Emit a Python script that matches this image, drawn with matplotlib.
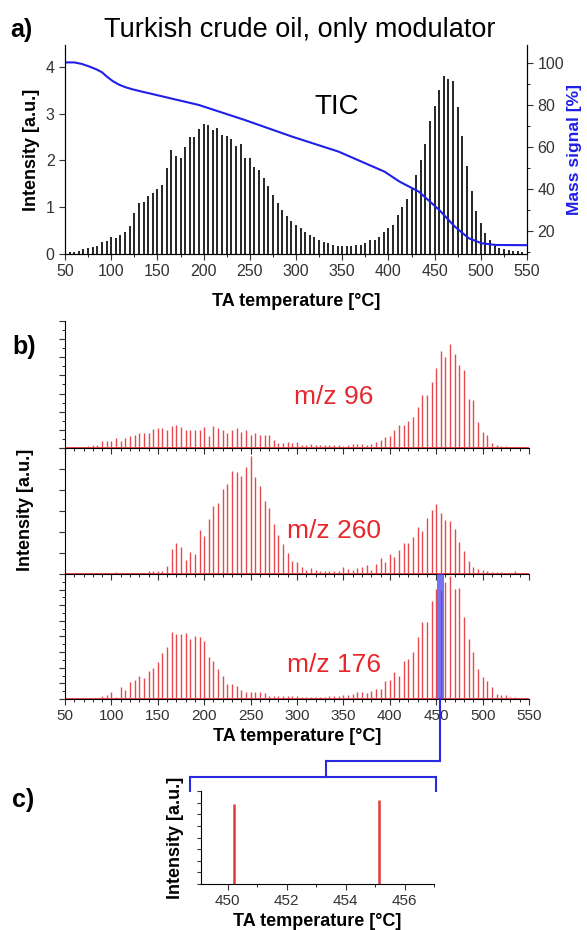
import numpy as np
import matplotlib
matplotlib.use('Agg')
import matplotlib.pyplot as plt
from matplotlib.ticker import MultipleLocator, NullFormatter
from matplotlib.lines import Line2D

plt.rcParams['font.family'] = ['Liberation Sans', 'DejaVu Sans']

W, H = 587, 930

# sample temperatures of the modulator pulses (every 5 degC)
temps = np.arange(50, 551, 5)

# a) TIC intensity [a.u.]
tic = [0.03, 0.05, 0.05, 0.07, 0.10, 0.13, 0.15, 0.18, 0.25, 0.28,
       0.37, 0.35, 0.40, 0.47, 0.60, 0.88, 1.10, 1.12, 1.25, 1.30,
       1.38, 1.47, 1.85, 2.22, 2.10, 2.05, 2.28, 2.50, 2.50, 2.68,
       2.77, 2.75, 2.65, 2.70, 2.55, 2.52, 2.45, 2.30, 2.35, 2.05,
       2.05, 1.87, 1.80, 1.62, 1.45, 1.27, 1.10, 0.95, 0.82, 0.70,
       0.62, 0.55, 0.48, 0.41, 0.36, 0.31, 0.26, 0.23, 0.19, 0.18,
       0.18, 0.18, 0.18, 0.20, 0.20, 0.23, 0.31, 0.31, 0.37, 0.46,
       0.56, 0.62, 0.84, 1.01, 1.17, 1.39, 1.69, 2.00, 2.35, 2.84,
       3.17, 3.50, 3.80, 3.75, 3.70, 3.15, 2.53, 1.89, 1.34, 0.93,
       0.67, 0.44, 0.31, 0.17, 0.12, 0.10, 0.08, 0.07, 0.06, 0.05,
       0.0]

# a) mass signal [%]
mass_t = [50, 60, 68, 76, 84, 90, 96, 102, 109, 116, 123, 132, 141, 195,
          245, 296, 346, 396, 412, 433, 455, 472, 487, 501, 516, 550]
mass_v = [100.3, 100.3, 99.6, 98.4, 97.0, 95.6, 93.3, 91.3, 89.6, 88.4,
          87.5, 86.5, 85.6, 80.0, 72.8, 64.9, 57.8, 48.2, 43.5, 38.7,
          30.0, 22.0, 16.5, 14.1, 13.3, 13.2]

# b) single ion traces [a.u.]
mz96 = [0, 2, 3, 2, 2, 5, 10, 10, 20, 20,
        20, 30, 20, 30, 35, 40, 45, 45, 45, 58,
        60, 60, 55, 68, 70, 65, 55, 55, 55, 55,
        65, 35, 68, 60, 55, 45, 55, 60, 50, 55,
        38, 45, 40, 38, 40, 25, 15, 15, 18, 15,
        18, 10, 10, 12, 8, 10, 10, 8, 8, 8,
        6, 8, 12, 12, 12, 8, 12, 18, 25, 32,
        35, 55, 70, 70, 83, 95, 125, 162, 162, 200,
        242, 293, 275, 315, 285, 252, 235, 150, 145, 80,
        48, 40, 15, 8, 7, 5, 4, 3, 2, 1,
        0]
mz260 = [0, 0, 0, 0, 0, 0, 0, 0, 0, 0,
         2, 5, 2, 2, 2, 3, 4, 3, 8, 8,
         10, 10, 25, 75, 93, 80, 42, 65, 60, 133,
         115, 165, 205, 212, 255, 270, 310, 307, 293, 320,
         355, 292, 265, 220, 198, 150, 118, 90, 63, 40,
         35, 20, 12, 18, 12, 10, 8, 10, 10, 8,
         22, 15, 12, 18, 20, 28, 12, 30, 47, 37,
         60, 50, 72, 94, 94, 110, 142, 130, 167, 192,
         210, 182, 162, 160, 134, 97, 70, 40, 22, 15,
         12, 8, 5, 5, 5, 4, 3, 8, 3, 2,
         0]
mz176 = [0, 0, 0, 3, 3, 3, 0, 0, 8, 12,
         20, 5, 35, 28, 50, 58, 68, 62, 85, 92,
         110, 138, 157, 200, 195, 195, 197, 180, 190, 185,
         175, 125, 115, 90, 68, 45, 45, 38, 27, 20,
         20, 22, 20, 18, 10, 8, 10, 10, 10, 8,
         8, 5, 5, 5, 5, 6, 6, 8, 8, 10,
         12, 12, 15, 20, 22, 18, 25, 30, 30, 55,
         58, 80, 70, 115, 120, 140, 185, 230, 230, 295,
         330, 328, 350, 370, 330, 333, 245, 180, 140, 90,
         65, 55, 35, 15, 12, 12, 5, 5, 4, 3,
         0]

# c) zoom on two modulation pulses
pulse_t = [450.22, 455.15]
pulse_h = [0.86, 0.90]

ion_labels = ['m/z 96', 'm/z 260', 'm/z 176']
ion_data = [mz96, mz260, mz176]
ion_ylim = [385, 378, 375]
ion_major = [55, 63, 46.9]
ion_minor = [27.5, None, 23.45]

red = '#e8272d'
stem_red = '#e64a4f'
blue = '#1f1fe6'
tick_col = '#333333'


def rect(l, t, r, b):
    return [l / W, 1 - b / H, (r - l) / W, (b - t) / H]


fig = plt.figure(figsize=(W / 100, H / 100), dpi=100)

# ---------------- panel a
ax = fig.add_axes(rect(65, 45, 527, 254))
ax.vlines(temps, 0, tic, color='black', lw=1.2)
ax.set_xlim(50, 550)
ax.set_ylim(0, 4.47)
ax.xaxis.set_major_locator(MultipleLocator(50))
ax.xaxis.set_minor_locator(MultipleLocator(25))
ax.yaxis.set_major_locator(MultipleLocator(1))
ax.spines['top'].set_visible(False)
ax.tick_params(labelsize=11.5, colors=tick_col, direction='out', length=4)
ax.tick_params(which='minor', length=2)
ax.set_xlabel('TA temperature [°C]', fontsize=13, fontweight='bold', labelpad=10)
ax.set_ylabel('Intensity [a.u.]', fontsize=13, fontweight='bold', labelpad=4)
ax.text(344, 3.14, 'TIC', fontsize=20, ha='center', va='center')

axm = ax.twinx()
axm.plot(mass_t, mass_v, color=blue, lw=1.5)
axm.set_ylim(9, 108.6)
axm.yaxis.set_major_locator(MultipleLocator(20))
axm.yaxis.set_minor_locator(MultipleLocator(10))
axm.spines['top'].set_visible(False)
axm.tick_params(labelsize=11.5, colors=tick_col, direction='out', length=4)
axm.tick_params(which='minor', length=2)
axm.set_ylabel('Mass signal [%]', fontsize=12.5, fontweight='bold', color=blue, labelpad=2)

fig.text(300 / W, 1 - 30 / H, 'Turkish crude oil, only modulator', fontsize=19.5,
         ha='center', va='center')
fig.text(10 / W, 1 - 30 / H, 'a)', fontsize=18, fontweight='bold', ha='left', va='center')

# ---------------- panel b
tops = [321, 448, 574]
bots = [448, 574, 699]
label_y = [397, 531, 665]
axes_b = []
for i in range(3):
    axb = fig.add_axes(rect(65, tops[i], 529, bots[i]))
    axb.vlines(temps, 0, ion_data[i], color=stem_red, lw=1.0)
    axb.axhline(0, color=red, lw=1.2, zorder=1)
    axb.set_xlim(50, 550)
    axb.set_ylim(0, ion_ylim[i])
    axb.xaxis.set_major_locator(MultipleLocator(50))
    axb.xaxis.set_minor_locator(MultipleLocator(10))
    axb.yaxis.set_major_locator(MultipleLocator(ion_major[i]))
    if ion_minor[i]:
        axb.yaxis.set_minor_locator(MultipleLocator(ion_minor[i]))
    axb.yaxis.set_major_formatter(NullFormatter())
    axb.spines['top'].set_visible(False)
    axb.spines['right'].set_visible(False)
    axb.patch.set_alpha(0)
    axb.tick_params(labelsize=11, colors=tick_col, direction='out', length=4)
    axb.tick_params(which='minor', length=2)
    if i < 2:
        axb.xaxis.set_major_formatter(NullFormatter())
    axb.text(340, ion_ylim[i] * (bots[i] - label_y[i]) / (bots[i] - tops[i]),
             ion_labels[i], color=red, fontsize=19, ha='center', va='center')
    axes_b.append(axb)

axes_b[2].set_xlabel('TA temperature [°C]', fontsize=13, fontweight='bold', labelpad=3)
axes_b[2].axvspan(450.5, 458.5, color='#4646ee', alpha=0.75, lw=0, zorder=3)
fig.text(25 / W, 1 - 510 / H, 'Intensity [a.u.]', fontsize=13, fontweight='bold',
         rotation=90, ha='center', va='center')
fig.text(12 / W, 1 - 347 / H, 'b)', fontsize=18, fontweight='bold', ha='left', va='center')

# ---------------- panel c
axc = fig.add_axes(rect(201, 791, 434, 884))
axc.vlines(pulse_t, 0, pulse_h, color='#e03a3a', lw=1.8)
axc.set_xlim(449.1, 457.0)
axc.set_ylim(0, 1)
axc.xaxis.set_major_locator(MultipleLocator(2))
axc.xaxis.set_minor_locator(MultipleLocator(1))
axc.yaxis.set_major_locator(MultipleLocator(0.125))
axc.yaxis.set_major_formatter(NullFormatter())
axc.spines['top'].set_visible(False)
axc.spines['right'].set_visible(False)
axc.tick_params(labelsize=11, colors=tick_col, direction='out', length=4)
axc.tick_params(which='minor', length=2)
axc.tick_params(axis='y', length=3)
axc.set_xlabel('TA temperature [°C]', fontsize=13, fontweight='bold', labelpad=3)
axc.set_ylabel('Intensity [a.u.]', fontsize=13, fontweight='bold', labelpad=6)
fig.text(12 / W, 1 - 800 / H, 'c)', fontsize=18, fontweight='bold', ha='left', va='center')

# ---------------- connector from the band in b) to panel c)
bx = axes_b[2].transData.transform((454.5, 0))[0] / fig.bbox.width
def fy(py):
    return 1 - py / H
def fx(px):
    return px / W
conn = [
    ([bx, bx], [fy(699), fy(761)]),
    ([bx, fx(326)], [fy(761), fy(761)]),
    ([fx(326), fx(326)], [fy(761), fy(777)]),
    ([fx(190), fx(436)], [fy(777), fy(777)]),
    ([fx(190), fx(190)], [fy(777), fy(791)]),
    ([fx(436), fx(436)], [fy(777), fy(791)]),
]
for xs, ys in conn:
    fig.add_artist(Line2D(xs, ys, transform=fig.transFigure, color='#2a2ae0', lw=1.5))

fig.savefig('out.png', dpi=100)
